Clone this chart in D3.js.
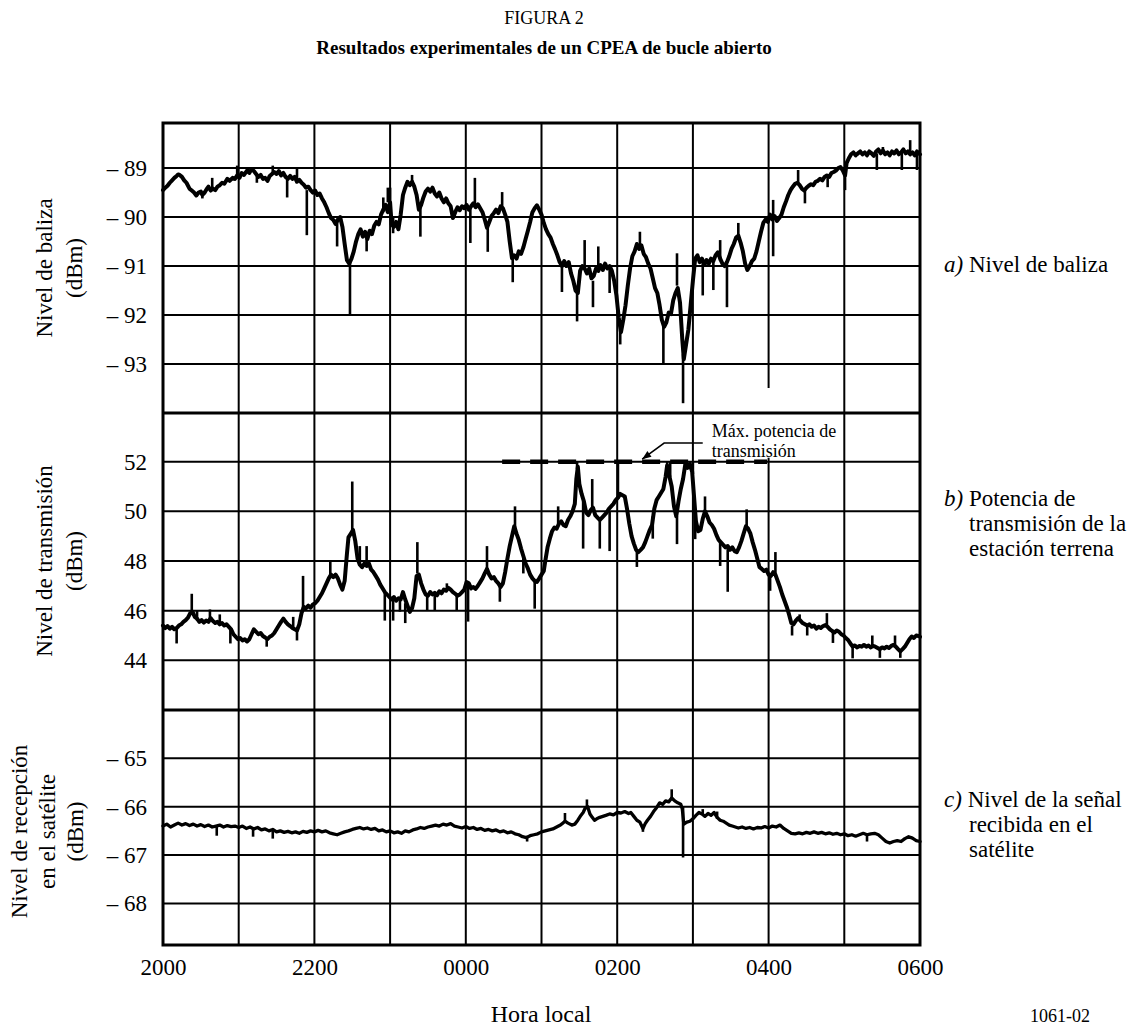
<!DOCTYPE html>
<html>
<head>
<meta charset="utf-8">
<script src="https://cdn.jsdelivr.net/npm/d3@7"></script>
<style>
  body { margin: 0; background: #fff; }
  svg text { font-family: "Liberation Serif", "Times New Roman", serif !important; fill: #000; }
</style>
</head>
<body>
<svg id="chart" width="1144" height="1026" font-family="'Liberation Serif', serif"></svg>
<script>
// Time axis: hours elapsed since 20:00 local time
const hourTicks = [0, 2, 4, 6, 8, 10];
const hourLabels = ["2000", "2200", "0000", "0200", "0400", "0600"];

// a) Beacon level (dBm): [hours, dBm]
const beaconTicks = [-89, -90, -91, -92, -93];
const beacon = [
  [0.00,-89.45],[0.03,-89.40],[0.06,-89.36],[0.09,-89.30],[0.12,-89.25],[0.15,-89.20],[0.18,-89.16],[0.20,-89.13],
  [0.22,-89.14],[0.25,-89.18],[0.28,-89.25],[0.31,-89.30],[0.35,-89.42],[0.38,-89.46],[0.41,-89.50],[0.44,-89.56],
  [0.47,-89.50],[0.50,-89.48],[0.52,-89.55],[0.55,-89.50],[0.58,-89.42],[0.60,-89.38],[0.63,-89.46],[0.66,-89.42],
  [0.69,-89.45],[0.72,-89.38],[0.75,-89.35],[0.78,-89.30],[0.81,-89.32],[0.85,-89.22],[0.88,-89.26],[0.92,-89.20],
  [0.95,-89.22],[0.98,-89.15],[1.01,-89.20],[1.04,-89.10],[1.07,-89.14],[1.11,-89.05],[1.14,-89.10],[1.17,-89.02],
  [1.20,-89.06],[1.23,-89.12],[1.26,-89.18],[1.29,-89.14],[1.32,-89.22],[1.35,-89.20],[1.38,-89.26],[1.41,-89.16],
  [1.44,-89.12],[1.47,-89.08],[1.50,-89.12],[1.53,-89.06],[1.56,-89.15],[1.59,-89.10],[1.62,-89.18],[1.65,-89.22],
  [1.68,-89.16],[1.71,-89.22],[1.74,-89.18],[1.77,-89.28],[1.80,-89.24],[1.83,-89.30],[1.86,-89.34],[1.89,-89.40],
  [1.92,-89.38],[1.95,-89.45],[1.98,-89.50],[2.01,-89.46],[2.04,-89.55],[2.07,-89.52],[2.10,-89.62],[2.13,-89.70],
  [2.16,-89.80],[2.19,-89.92],[2.22,-90.02],[2.25,-90.06],[2.28,-90.14],[2.31,-90.05],[2.34,-90.00],[2.37,-90.20],
  [2.40,-90.55],[2.43,-90.88],[2.46,-90.95],[2.49,-90.85],[2.52,-90.70],[2.55,-90.50],[2.58,-90.35],[2.61,-90.25],
  [2.64,-90.40],[2.67,-90.30],[2.70,-90.45],[2.73,-90.28],[2.76,-90.35],[2.79,-90.18],[2.82,-90.10],[2.85,-90.15],
  [2.88,-89.95],[2.91,-89.85],[2.94,-89.75],[2.97,-89.90],[3.00,-89.70],[3.02,-90.15],[3.05,-90.20],[3.08,-90.10],
  [3.11,-90.25],[3.14,-89.95],[3.17,-89.55],[3.20,-89.40],[3.23,-89.28],[3.26,-89.35],[3.29,-89.28],[3.32,-89.38],
  [3.35,-89.55],[3.38,-89.85],[3.41,-89.75],[3.44,-89.60],[3.47,-89.48],[3.50,-89.42],[3.53,-89.48],[3.56,-89.40],
  [3.59,-89.52],[3.62,-89.58],[3.65,-89.50],[3.68,-89.62],[3.71,-89.70],[3.74,-89.62],[3.77,-89.72],[3.80,-89.78],
  [3.83,-90.02],[3.86,-89.90],[3.89,-89.80],[3.92,-89.86],[3.95,-89.78],[3.98,-89.82],[4.01,-89.75],[4.04,-89.85],
  [4.07,-89.78],[4.10,-89.72],[4.13,-89.80],[4.16,-89.74],[4.19,-89.82],[4.22,-89.90],[4.25,-90.05],[4.28,-90.22],
  [4.31,-90.10],[4.34,-89.98],[4.37,-89.92],[4.40,-89.85],[4.43,-89.92],[4.46,-89.78],[4.49,-89.82],[4.52,-89.95],
  [4.55,-90.10],[4.58,-90.50],[4.61,-90.84],[4.64,-90.78],[4.67,-90.85],[4.70,-90.70],[4.73,-90.75],[4.76,-90.62],
  [4.79,-90.45],[4.82,-90.28],[4.85,-90.10],[4.88,-89.90],[4.91,-89.82],[4.94,-89.76],[4.97,-89.85],[5.00,-89.95],
  [5.03,-90.12],[5.06,-90.25],[5.09,-90.35],[5.12,-90.42],[5.15,-90.55],[5.18,-90.66],[5.21,-90.78],[5.24,-90.92],
  [5.27,-91.00],[5.30,-90.90],[5.33,-91.00],[5.36,-90.92],[5.39,-91.15],[5.42,-91.30],[5.45,-91.50],[5.48,-91.55],
  [5.51,-91.10],[5.54,-91.00],[5.57,-91.05],[5.60,-91.15],[5.63,-91.05],[5.66,-91.25],[5.69,-91.20],[5.72,-91.05],
  [5.75,-91.10],[5.78,-90.98],[5.81,-91.08],[5.84,-90.95],[5.87,-91.05],[5.90,-91.00],[5.93,-91.10],[5.96,-91.30],
  [5.99,-91.60],[6.02,-92.05],[6.05,-92.35],[6.08,-92.10],[6.11,-91.80],[6.14,-91.40],[6.17,-91.05],[6.20,-90.80],
  [6.23,-90.70],[6.26,-90.55],[6.29,-90.65],[6.32,-90.58],[6.35,-90.75],[6.38,-90.82],[6.41,-90.95],[6.44,-91.05],
  [6.47,-91.25],[6.50,-91.45],[6.53,-91.55],[6.56,-91.80],[6.59,-92.10],[6.62,-92.24],[6.65,-92.15],[6.68,-91.95],
  [6.71,-91.98],[6.74,-91.70],[6.77,-91.55],[6.80,-91.45],[6.83,-91.75],[6.86,-92.50],[6.88,-92.90],[6.91,-92.60],
  [6.94,-92.30],[6.97,-91.80],[7.00,-91.30],[7.03,-90.85],[7.06,-90.78],[7.09,-90.92],[7.12,-90.85],[7.15,-90.98],
  [7.18,-90.88],[7.21,-90.95],[7.24,-90.85],[7.27,-90.90],[7.30,-90.78],[7.33,-90.72],[7.36,-90.85],[7.39,-90.95],
  [7.42,-91.00],[7.45,-90.92],[7.48,-90.80],[7.51,-90.65],[7.54,-90.55],[7.57,-90.42],[7.60,-90.38],[7.63,-90.52],
  [7.66,-90.70],[7.69,-90.95],[7.72,-91.08],[7.75,-91.00],[7.78,-90.90],[7.81,-90.85],[7.84,-90.70],[7.87,-90.50],
  [7.90,-90.30],[7.93,-90.12],[7.96,-90.05],[7.99,-90.10],[8.02,-89.95],[8.05,-90.05],[8.08,-89.98],[8.11,-90.08],
  [8.14,-90.02],[8.17,-89.95],[8.20,-89.80],[8.23,-89.68],[8.26,-89.55],[8.29,-89.45],[8.32,-89.38],[8.35,-89.32],
  [8.38,-89.30],[8.41,-89.35],[8.44,-89.42],[8.47,-89.46],[8.50,-89.40],[8.53,-89.36],[8.56,-89.33],[8.59,-89.35],
  [8.62,-89.28],[8.65,-89.26],[8.68,-89.22],[8.71,-89.25],[8.74,-89.18],[8.77,-89.15],[8.80,-89.18],[8.83,-89.10],
  [8.86,-89.08],[8.89,-89.05],[8.92,-89.00],[8.95,-88.98],[8.98,-89.05],[9.01,-89.15],[9.03,-88.90],[9.06,-88.80],
  [9.09,-88.72],[9.12,-88.68],[9.15,-88.74],[9.18,-88.70],[9.21,-88.66],[9.24,-88.72],[9.27,-88.68],[9.30,-88.74],
  [9.33,-88.66],[9.36,-88.70],[9.39,-88.75],[9.42,-88.66],[9.45,-88.62],[9.48,-88.70],[9.51,-88.64],[9.54,-88.72],
  [9.57,-88.68],[9.60,-88.74],[9.63,-88.66],[9.66,-88.70],[9.69,-88.64],[9.72,-88.72],[9.75,-88.68],[9.78,-88.62],
  [9.81,-88.70],[9.84,-88.66],[9.87,-88.72],[9.90,-88.68],[9.93,-88.74],[9.96,-88.66],[10.0,-88.72]
];
// short excursions of the beacon trace: [hours, from dBm, to dBm]
const beaconSpikes = [
  [0.52, -89.50, -89.62], [0.65, -89.45, -89.20], [0.98, -89.20, -88.95], [1.12, -89.10, -88.98],
  [1.24, -89.15, -89.30], [1.45, -89.12, -88.95], [1.64, -89.20, -89.60], [1.77, -89.25, -89.00],
  [1.90, -89.45, -90.37], [2.30, -90.10, -90.60], [2.47, -90.90, -92.00], [2.69, -90.40, -90.70],
  [2.91, -89.90, -89.60], [2.97, -89.70, -89.40], [3.00, -89.90, -89.40], [3.04, -90.00, -90.33],
  [3.29, -89.35, -89.14], [3.40, -89.80, -90.40], [4.06, -89.80, -90.53], [4.12, -89.80, -89.20],
  [4.29, -90.20, -90.71], [4.48, -89.80, -89.49], [4.62, -90.80, -91.33], [5.27, -91.00, -91.53],
  [5.47, -91.50, -92.13], [5.57, -91.00, -90.47], [5.68, -91.30, -91.84], [5.75, -91.00, -90.60],
  [5.90, -91.00, -91.55], [6.04, -92.30, -92.60], [6.30, -90.60, -90.30], [6.61, -92.20, -92.98],
  [6.79, -91.40, -90.74], [6.87, -92.80, -93.80], [7.13, -90.95, -91.60], [7.27, -90.85, -91.49],
  [7.36, -90.90, -90.47], [7.45, -90.95, -91.84], [7.60, -90.40, -90.12], [8.06, -89.65, -90.80],
  [8.39, -89.31, -89.04], [8.48, -89.45, -89.72], [8.78, -89.14, -89.39], [9.01, -89.00, -89.45],
  [9.43, -88.70, -89.04], [9.51, -88.62, -88.57], [9.76, -88.65, -89.04], [9.87, -88.70, -88.43],
  [9.96, -88.70, -89.04]
];

// b) Earth-station transmit power (dBm)
const txTicks = [52, 50, 48, 46, 44];
const txPower = [
  [0.00,45.40],[0.03,45.30],[0.06,45.38],[0.09,45.28],[0.12,45.35],[0.15,45.25],[0.18,45.30],[0.21,45.40],
  [0.24,45.45],[0.27,45.55],[0.30,45.62],[0.33,45.72],[0.36,45.90],[0.39,45.95],[0.42,45.75],[0.45,45.68],
  [0.48,45.55],[0.51,45.62],[0.54,45.52],[0.57,45.60],[0.60,45.55],[0.63,45.70],[0.66,45.58],[0.69,45.50],
  [0.72,45.55],[0.75,45.45],[0.78,45.50],[0.81,45.40],[0.84,45.45],[0.87,45.35],[0.90,45.25],[0.93,45.05],
  [0.96,44.95],[0.99,44.85],[1.02,44.90],[1.05,44.80],[1.08,44.85],[1.11,44.76],[1.14,44.85],[1.17,45.05],
  [1.20,45.25],[1.23,45.15],[1.26,45.05],[1.29,45.10],[1.32,44.98],[1.35,44.92],[1.38,44.85],[1.41,44.95],
  [1.44,45.00],[1.47,45.10],[1.50,45.25],[1.53,45.40],[1.56,45.55],[1.59,45.68],[1.62,45.55],[1.65,45.45],
  [1.68,45.38],[1.71,45.30],[1.74,45.25],[1.77,45.20],[1.80,45.45],[1.83,45.90],[1.86,46.15],[1.89,46.10],
  [1.92,46.20],[1.95,46.12],[1.98,46.25],[2.01,46.30],[2.04,46.40],[2.07,46.55],[2.10,46.70],[2.13,46.90],
  [2.16,47.10],[2.19,47.30],[2.22,47.45],[2.25,47.35],[2.28,47.45],[2.31,47.30],[2.34,47.05],[2.37,46.85],
  [2.40,47.20],[2.43,48.30],[2.45,48.95],[2.48,49.10],[2.51,49.25],[2.54,48.80],[2.57,48.10],[2.60,47.85],
  [2.63,47.75],[2.66,47.90],[2.69,47.80],[2.72,47.90],[2.75,47.65],[2.78,47.55],[2.81,47.40],[2.84,47.25],
  [2.87,47.05],[2.90,46.90],[2.93,46.75],[2.96,46.65],[2.99,46.55],[3.02,46.45],[3.05,46.55],[3.08,46.40],
  [3.11,46.50],[3.14,46.45],[3.17,46.75],[3.20,46.45],[3.23,46.20],[3.26,45.95],[3.29,46.10],[3.32,46.50],
  [3.35,47.40],[3.38,47.45],[3.41,47.10],[3.44,46.85],[3.47,46.65],[3.50,46.60],[3.53,46.75],[3.56,46.65],
  [3.59,46.72],[3.62,46.62],[3.65,46.78],[3.68,46.70],[3.71,46.85],[3.74,46.80],[3.77,46.92],[3.80,46.85],
  [3.83,46.75],[3.86,46.68],[3.89,46.60],[3.92,46.65],[3.95,46.75],[3.98,46.85],[4.01,47.15],[4.04,47.10],
  [4.07,46.90],[4.10,46.95],[4.13,46.88],[4.16,47.00],[4.19,47.15],[4.22,47.30],[4.25,47.50],[4.28,47.68],
  [4.31,47.45],[4.34,47.30],[4.37,47.35],[4.40,47.20],[4.43,47.10],[4.46,46.95],[4.49,47.10],[4.52,47.55],
  [4.55,48.10],[4.58,48.60],[4.61,49.00],[4.64,49.40],[4.67,49.10],[4.70,48.85],[4.73,48.50],[4.76,48.20],
  [4.79,47.90],[4.82,47.70],[4.85,47.45],[4.88,47.30],[4.91,47.20],[4.94,47.16],[4.97,47.30],[5.00,47.45],
  [5.03,47.60],[5.05,48.00],[5.08,48.55],[5.11,48.90],[5.14,49.20],[5.17,49.35],[5.20,49.30],[5.23,49.50],
  [5.26,49.60],[5.29,49.45],[5.32,49.40],[5.35,49.65],[5.38,49.80],[5.41,50.00],[5.44,50.30],[5.46,51.30],
  [5.48,51.80],[5.50,51.10],[5.53,50.70],[5.56,50.40],[5.59,49.95],[5.62,49.85],[5.65,50.05],[5.68,50.15],
  [5.71,49.85],[5.74,49.75],[5.77,49.65],[5.80,49.75],[5.83,49.85],[5.86,49.95],[5.89,50.10],[5.92,50.20],
  [5.95,50.30],[5.98,50.45],[6.01,50.55],[6.04,50.70],[6.07,50.65],[6.10,50.60],[6.13,50.10],[6.16,49.50],
  [6.19,49.00],[6.22,48.70],[6.25,48.45],[6.28,48.36],[6.31,48.45],[6.34,48.55],[6.37,48.75],[6.40,49.00],
  [6.43,49.25],[6.46,49.45],[6.49,50.10],[6.52,50.45],[6.55,50.60],[6.58,50.75],[6.61,50.90],[6.64,51.40],
  [6.66,51.85],[6.69,51.40],[6.72,51.00],[6.75,50.20],[6.78,49.80],[6.81,50.40],[6.84,50.90],[6.87,51.30],
  [6.90,51.90],[6.93,51.75],[6.96,51.90],[6.99,51.60],[7.02,50.40],[7.04,49.60],[7.07,49.20],[7.10,49.25],
  [7.13,49.70],[7.16,50.00],[7.19,49.80],[7.22,49.55],[7.25,49.45],[7.28,49.30],[7.31,49.05],[7.34,48.85],
  [7.37,48.75],[7.40,48.65],[7.43,48.55],[7.46,48.60],[7.49,48.45],[7.52,48.55],[7.55,48.40],[7.58,48.36],
  [7.61,48.55],[7.64,48.80],[7.67,49.10],[7.70,49.40],[7.73,49.30],[7.76,49.10],[7.79,48.75],[7.82,48.45],
  [7.85,48.10],[7.88,47.75],[7.91,47.68],[7.94,47.60],[7.97,47.65],[8.00,47.45],[8.03,47.40],[8.06,47.55],
  [8.09,47.45],[8.12,47.20],[8.15,46.95],[8.18,46.65],[8.21,46.40],[8.24,46.15],[8.27,45.85],[8.30,45.50],
  [8.33,45.45],[8.36,45.60],[8.39,45.70],[8.42,45.60],[8.45,45.50],[8.48,45.45],[8.51,45.40],[8.54,45.45],
  [8.57,45.35],[8.60,45.40],[8.63,45.28],[8.66,45.35],[8.69,45.30],[8.72,45.38],[8.75,45.42],[8.78,45.35],
  [8.81,45.25],[8.84,45.18],[8.87,45.12],[8.90,45.20],[8.93,45.15],[8.96,45.05],[8.99,45.00],[9.02,44.90],
  [9.05,44.82],[9.08,44.68],[9.11,44.56],[9.14,44.60],[9.17,44.52],[9.20,44.58],[9.23,44.55],[9.26,44.62],
  [9.29,44.55],[9.32,44.60],[9.35,44.52],[9.38,44.58],[9.41,44.55],[9.44,44.50],[9.47,44.45],[9.50,44.52],
  [9.53,44.48],[9.56,44.55],[9.59,44.50],[9.62,44.58],[9.65,44.62],[9.68,44.55],[9.71,44.45],[9.74,44.36],
  [9.77,44.45],[9.80,44.55],[9.83,44.70],[9.86,44.85],[9.89,44.96],[9.92,44.90],[9.95,45.00],[9.98,44.98],
  [10.0,44.95]
];
const txSpikes = [
  [0.18, 45.30, 44.68], [0.38, 46.00, 46.68], [0.45, 45.60, 46.00], [0.62, 45.65, 46.05],
  [0.75, 45.45, 45.85], [0.89, 45.30, 44.68], [1.37, 44.90, 44.55], [1.72, 45.30, 45.75],
  [1.77, 45.20, 44.80], [1.85, 46.10, 47.40], [2.21, 47.40, 47.96], [2.50, 49.20, 51.20],
  [2.60, 47.90, 48.60], [2.69, 47.80, 48.60], [2.93, 46.70, 45.60], [3.04, 46.50, 45.60],
  [3.13, 46.40, 45.96], [3.20, 46.30, 45.50], [3.36, 47.50, 48.76], [3.49, 46.60, 46.00],
  [3.59, 46.70, 46.00], [3.75, 46.85, 47.10], [3.88, 46.70, 46.00], [4.03, 47.10, 45.56],
  [4.28, 47.60, 48.60], [4.45, 47.00, 46.36], [4.65, 49.30, 50.20], [4.76, 48.20, 47.50],
  [4.91, 47.20, 46.08], [5.22, 49.50, 50.20], [5.47, 51.70, 52.00], [5.55, 50.40, 48.50],
  [5.67, 50.10, 51.30], [5.77, 49.70, 48.50], [5.90, 50.00, 48.40], [6.01, 50.50, 52.00],
  [6.26, 48.40, 47.76], [6.47, 49.80, 48.90], [6.66, 51.80, 52.00], [6.70, 51.40, 52.00],
  [6.79, 49.80, 48.68], [6.92, 51.90, 52.00], [6.96, 51.80, 52.00], [7.00, 51.50, 52.00],
  [7.03, 49.80, 48.88], [7.16, 50.00, 50.60], [7.36, 48.80, 47.80], [7.46, 48.60, 46.76],
  [7.71, 49.40, 50.08], [8.02, 47.40, 46.80], [8.09, 47.50, 48.36], [8.31, 45.40, 45.00],
  [8.41, 45.68, 45.85], [8.51, 45.40, 45.00], [8.77, 45.40, 45.90], [8.85, 45.16, 44.70],
  [9.11, 44.56, 44.08], [9.37, 44.58, 45.00], [9.47, 44.48, 44.10], [9.67, 44.60, 45.00],
  [9.74, 44.36, 44.10]
];
// maximum transmit power reference
const maxTxPower = 52;
const maxTxSpan = [4.48, 7.98];

// c) Level received at the satellite (dBm)
const rxTicks = [-65, -66, -67, -68];
const rxLevel = [
  [0.00,-66.40],[0.05,-66.36],[0.10,-66.42],[0.15,-66.38],[0.20,-66.34],[0.25,-66.38],[0.30,-66.35],[0.35,-66.39],
  [0.40,-66.36],[0.45,-66.40],[0.50,-66.37],[0.55,-66.41],[0.60,-66.38],[0.65,-66.42],[0.70,-66.40],[0.75,-66.38],
  [0.80,-66.42],[0.85,-66.39],[0.90,-66.41],[0.95,-66.40],[1.00,-66.43],[1.05,-66.40],[1.10,-66.45],[1.15,-66.42],
  [1.20,-66.46],[1.25,-66.43],[1.30,-66.48],[1.35,-66.46],[1.40,-66.50],[1.45,-66.47],[1.50,-66.52],[1.55,-66.50],
  [1.60,-66.53],[1.65,-66.51],[1.70,-66.54],[1.75,-66.52],[1.80,-66.55],[1.85,-66.51],[1.90,-66.53],[1.95,-66.50],
  [2.00,-66.52],[2.05,-66.49],[2.10,-66.52],[2.15,-66.50],[2.20,-66.54],[2.25,-66.56],[2.30,-66.58],[2.35,-66.55],
  [2.40,-66.52],[2.45,-66.50],[2.50,-66.47],[2.55,-66.45],[2.60,-66.43],[2.65,-66.46],[2.70,-66.44],[2.75,-66.47],
  [2.80,-66.45],[2.85,-66.50],[2.90,-66.48],[2.95,-66.52],[3.00,-66.50],[3.05,-66.54],[3.10,-66.52],[3.15,-66.55],
  [3.20,-66.50],[3.25,-66.52],[3.30,-66.48],[3.35,-66.46],[3.40,-66.43],[3.45,-66.45],[3.50,-66.42],[3.55,-66.40],
  [3.60,-66.38],[3.65,-66.40],[3.70,-66.36],[3.75,-66.38],[3.80,-66.35],[3.85,-66.40],[3.90,-66.42],[3.95,-66.44],
  [4.00,-66.41],[4.05,-66.45],[4.10,-66.43],[4.15,-66.47],[4.20,-66.45],[4.25,-66.49],[4.30,-66.47],[4.35,-66.50],
  [4.40,-66.48],[4.45,-66.52],[4.50,-66.50],[4.55,-66.54],[4.60,-66.52],[4.65,-66.56],[4.70,-66.58],[4.75,-66.62],
  [4.80,-66.64],[4.85,-66.60],[4.90,-66.58],[4.95,-66.56],[5.00,-66.52],[5.05,-66.50],[5.10,-66.48],[5.15,-66.46],
  [5.20,-66.42],[5.25,-66.38],[5.28,-66.34],[5.31,-66.30],[5.35,-66.34],[5.40,-66.38],[5.44,-66.36],[5.48,-66.28],
  [5.52,-66.18],[5.55,-66.12],[5.58,-66.02],[5.61,-66.00],[5.64,-66.15],[5.67,-66.22],[5.70,-66.28],[5.73,-66.25],
  [5.77,-66.22],[5.81,-66.20],[5.85,-66.18],[5.90,-66.15],[5.95,-66.17],[6.00,-66.12],[6.05,-66.13],[6.10,-66.10],
  [6.15,-66.14],[6.18,-66.12],[6.22,-66.20],[6.26,-66.28],[6.30,-66.32],[6.34,-66.45],[6.37,-66.35],[6.40,-66.28],
  [6.44,-66.20],[6.48,-66.10],[6.52,-66.02],[6.56,-65.92],[6.60,-65.95],[6.64,-65.88],[6.68,-65.90],[6.72,-65.82],
  [6.76,-65.88],[6.80,-65.92],[6.84,-65.95],[6.86,-66.05],[6.88,-66.36],[6.92,-66.32],[6.96,-66.30],[7.00,-66.25],
  [7.04,-66.18],[7.08,-66.12],[7.12,-66.15],[7.16,-66.20],[7.20,-66.14],[7.24,-66.18],[7.28,-66.12],[7.32,-66.22],
  [7.36,-66.28],[7.40,-66.30],[7.44,-66.34],[7.48,-66.38],[7.52,-66.40],[7.56,-66.42],[7.60,-66.44],[7.65,-66.42],
  [7.70,-66.45],[7.75,-66.43],[7.80,-66.46],[7.85,-66.43],[7.90,-66.44],[7.95,-66.41],[8.00,-66.44],[8.05,-66.40],
  [8.10,-66.42],[8.15,-66.38],[8.20,-66.45],[8.25,-66.50],[8.30,-66.55],[8.35,-66.56],[8.40,-66.54],[8.45,-66.56],
  [8.50,-66.53],[8.55,-66.55],[8.60,-66.52],[8.65,-66.55],[8.70,-66.53],[8.75,-66.56],[8.80,-66.54],[8.85,-66.57],
  [8.90,-66.55],[8.95,-66.58],[9.00,-66.56],[9.05,-66.60],[9.10,-66.58],[9.15,-66.61],[9.20,-66.58],[9.25,-66.55],
  [9.30,-66.58],[9.35,-66.56],[9.40,-66.55],[9.45,-66.58],[9.50,-66.65],[9.55,-66.72],[9.60,-66.75],[9.65,-66.72],
  [9.70,-66.70],[9.75,-66.72],[9.80,-66.66],[9.85,-66.62],[9.90,-66.65],[9.95,-66.70],[10.0,-66.72]
];
const rxSpikes = [
  [0.71, -66.42, -66.60], [1.19, -66.45, -66.62], [1.45, -66.48, -66.66], [4.81, -66.60, -66.72],
  [5.31, -66.33, -66.13], [5.60, -66.00, -65.85], [6.34, -66.40, -66.52], [6.72, -65.85, -65.64],
  [6.87, -66.00, -67.05], [7.13, -66.15, -66.05], [7.32, -66.25, -66.10], [9.30, -66.58, -66.72]
];

// ---------------------------------------------------------------------------
const svg = d3.select("#chart");
const left = 163, right = 920;
const x = d3.scaleLinear().domain([0, 10]).range([left, right]);
const SERIF = "'Liberation Serif', 'Times New Roman', serif";

const panels = [
  { top: 123, bottom: 413, domain: [-94, -88.08], ticks: beaconTicks, data: beacon, spikes: beaconSpikes,
    fmt: d => "\u2013 " + Math.abs(d), lw: 4.0 },
  { top: 412, bottom: 710, domain: [42, 54], ticks: txTicks, data: txPower, spikes: txSpikes,
    fmt: d => String(d), lw: 4.0 },
  { top: 710, bottom: 945, domain: [-68.86, -64], ticks: rxTicks, data: rxLevel, spikes: rxSpikes,
    fmt: d => "\u2013 " + Math.abs(d), lw: 3.3 }
];
panels.forEach(p => { p.y = d3.scaleLinear().domain(p.domain).range([p.bottom, p.top]); });

const gGrid = svg.append("g").attr("stroke", "#000").attr("stroke-width", 2).attr("fill", "none");
// vertical hour lines
gGrid.selectAll("line.v").data(d3.range(1, 10)).join("line")
  .attr("x1", d => x(d)).attr("x2", d => x(d))
  .attr("y1", panels[0].top).attr("y2", panels[2].bottom);
// horizontal level lines
panels.forEach(p => {
  gGrid.append("g").selectAll("line").data(p.ticks).join("line")
    .attr("x1", left).attr("x2", right)
    .attr("y1", d => p.y(d)).attr("y2", d => p.y(d));
});

// white box that carries the maximum-power note
const noteBox = { t0: 7.21, t1: 8.98 };
svg.append("rect")
  .attr("x", x(noteBox.t0)).attr("width", x(noteBox.t1) - x(noteBox.t0))
  .attr("y", panels[0].y(-93.49)).attr("height", panels[1].y(52.16) - panels[0].y(-93.49))
  .attr("fill", "#fff");

// traces
panels.forEach(p => {
  const line = d3.line().x(d => x(d[0])).y(d => p.y(d[1])).curve(d3.curveLinear);
  svg.append("path").datum(p.data)
    .attr("d", line).attr("fill", "none").attr("stroke", "#000")
    .attr("stroke-width", p.lw).attr("stroke-linejoin", "round").attr("stroke-linecap", "round");
  svg.append("g").selectAll("line").data(p.spikes).join("line")
    .attr("x1", d => x(d[0])).attr("x2", d => x(d[0]))
    .attr("y1", d => p.y(d[1])).attr("y2", d => p.y(d[2]))
    .attr("stroke", "#000").attr("stroke-width", 2.6).attr("stroke-linecap", "butt");
});

// maximum transmit power (dashed)
const pb = panels[1];
svg.append("line")
  .attr("x1", x(maxTxSpan[0])).attr("x2", x(maxTxSpan[1]))
  .attr("y1", pb.y(maxTxPower)).attr("y2", pb.y(maxTxPower))
  .attr("stroke", "#000").attr("stroke-width", 4.5).attr("stroke-dasharray", "18,10");

// frame and panel separators
const gFrame = svg.append("g").attr("stroke", "#000").attr("fill", "none");
gFrame.append("rect").attr("x", left).attr("y", panels[0].top)
  .attr("width", right - left).attr("height", panels[2].bottom - panels[0].top)
  .attr("stroke-width", 3);
[panels[0].bottom, panels[1].bottom].forEach(yy => {
  gFrame.append("line").attr("x1", left).attr("x2", right).attr("y1", yy).attr("y2", yy)
    .attr("stroke-width", 2.8);
});

// note leader and text
const tip = [x(6.33), pb.y(52.1)];
const elbow = [x(6.62), pb.y(52.75)];
const tail = [x(7.13), pb.y(52.75)];
svg.append("path")
  .attr("d", d3.line()([tail, elbow, tip]))
  .attr("fill", "none").attr("stroke", "#000").attr("stroke-width", 1.5);
const ang = Math.atan2(tip[1] - elbow[1], tip[0] - elbow[0]);
const ah = 9, aw = 3.5;
const base = [tip[0] - ah * Math.cos(ang), tip[1] - ah * Math.sin(ang)];
svg.append("path")
  .attr("d", d3.line()([
    tip,
    [base[0] + aw * Math.sin(ang), base[1] - aw * Math.cos(ang)],
    [base[0] - aw * Math.sin(ang), base[1] + aw * Math.cos(ang)]
  ]) + "Z")
  .attr("fill", "#000");
const note = svg.append("text").attr("font-size", 18).attr("font-family", SERIF);
note.append("tspan").attr("x", x(7.25)).attr("y", pb.y(53.0)).text("Máx. potencia de");
note.append("tspan").attr("x", x(7.25)).attr("y", pb.y(52.2)).text("transmisión");

// y tick labels
panels.forEach(p => {
  const ax = d3.axisLeft(p.y).tickValues(p.ticks).tickFormat(p.fmt).tickSize(0).tickPadding(16);
  const g = svg.append("g").attr("transform", `translate(${left},0)`).call(ax)
    .attr("font-family", SERIF).attr("font-size", 23);
  g.select(".domain").remove();
  g.selectAll("text").attr("fill", "#000");
});

// x tick labels
const xAxis = d3.axisBottom(x).tickValues(hourTicks)
  .tickFormat((d, i) => hourLabels[i]).tickSize(0).tickPadding(14);
const gx = svg.append("g").attr("transform", `translate(0,${panels[2].bottom})`).call(xAxis)
  .attr("font-family", SERIF).attr("font-size", 23);
gx.select(".domain").remove();
gx.selectAll("text").attr("fill", "#000");

// rotated y titles
function yTitle(lines, cx, cy, step) {
  const t = svg.append("text").attr("font-size", 23).attr("font-family", SERIF).attr("text-anchor", "middle")
    .attr("transform", `translate(${cx},${cy}) rotate(-90)`);
  lines.forEach((s, i) => t.append("tspan").attr("x", 0).attr("y", i * step).text(s));
}
yTitle(["Nivel de baliza", "(dBm)"], 52, (panels[0].top + panels[0].bottom) / 2, 30);
yTitle(["Nivel de transmisión", "(dBm)"], 52, (panels[1].top + panels[1].bottom) / 2, 30);
yTitle(["Nivel de recepción", "en el satélite", "(dBm)"], 27, (panels[2].top + panels[2].bottom) / 2 + 4, 28);

// right-hand panel captions
function caption(tag, lines, cy) {
  const t = svg.append("text").attr("font-size", 23).attr("font-family", SERIF);
  const first = t.append("tspan").attr("x", 944).attr("y", cy);
  first.append("tspan").attr("font-style", "italic").text(tag);
  first.append("tspan").text(" " + lines[0]);
  lines.slice(1).forEach((s, i) => t.append("tspan").attr("x", 969).attr("y", cy + (i + 1) * 25).text(s));
}
caption("a)", ["Nivel de baliza"], 272);
caption("b)", ["Potencia de", "transmisión de la", "estación terrena"], 506);
caption("c)", ["Nivel de la señal", "recibida en el", "satélite"], 807);

// titles and footer
svg.append("text").attr("x", 544).attr("y", 24).attr("text-anchor", "middle").attr("font-size", 18)
  .attr("font-family", SERIF).text("FIGURA 2");
svg.append("text").attr("x", 544).attr("y", 54).attr("text-anchor", "middle").attr("font-size", 19)
  .attr("font-family", SERIF).attr("font-weight", "bold")
  .text("Resultados experimentales de un CPEA de bucle abierto");
svg.append("text").attr("x", 541).attr("y", 1022).attr("text-anchor", "middle").attr("font-size", 24)
  .attr("font-family", SERIF).text("Hora local");
svg.append("text").attr("x", 1090).attr("y", 1022).attr("text-anchor", "end").attr("font-size", 18)
  .attr("font-family", SERIF).text("1061-02");
</script>
</body>
</html>
